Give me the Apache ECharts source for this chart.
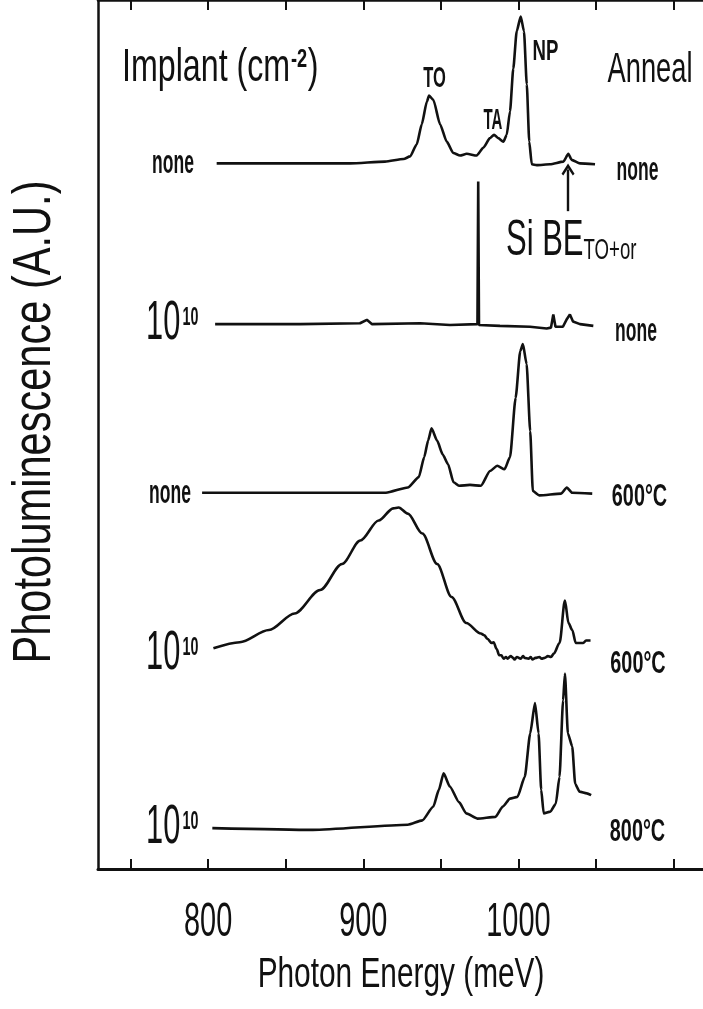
<!DOCTYPE html>
<html>
<head>
<meta charset="utf-8">
<script src="https://cdn.jsdelivr.net/npm/echarts@6/dist/echarts.min.js"></script>
<style>
  html, body { margin: 0; padding: 0; background: #ffffff; }
  #chart { width: 703px; height: 1009px; }
</style>
</head>
<body>
<div id="chart"></div>
<script>
// ---- Data: photon energy (meV) vs. photoluminescence (A.U., relative to each trace's baseline)
const energyMin = 729;
const energyMax = 1119;
const xTickValues = [750, 800, 850, 900, 950, 1000, 1050, 1100];
const xTickLabels = [800, 900, 1000];

// vertical offsets of the stacked traces (A.U.)
const traceOffsets = [8.12, 6.27, 4.33, 2.45, 0.46];

// implant: none, anneal: none
const traceNoneNone = [
  [805.5, 0], [830, 0], [859.3, 0], [891.5, 0], [914, 0.02], [926, 0.05], [930.2, 0.08],
  [934.5, 0.22], [937.7, 0.45], [941, 0.71], [942.4, 0.78], [945.2, 0.73], [949.5, 0.45],
  [953.8, 0.25], [958, 0.12], [962.4, 0.09], [966.7, 0.11], [973.1, 0.09], [977.4, 0.18],
  [981.7, 0.29], [984.3, 0.33], [987, 0.29], [990.3, 0.25], [992.5, 0.33], [994.6, 0.6],
  [996.7, 1.09], [998.9, 1.52], [1001.5, 1.69], [1003.6, 1.52], [1005.4, 0.91], [1007, 0.25],
  [1008.6, -0.01], [1011.8, -0.02], [1020.4, -0.01], [1029, 0.02], [1032.2, 0.11],
  [1034.3, 0.04], [1039.7, 0], [1049.4, -0.01]
];

// implant: 10^10, anneal: none
const traceImplNone = [
  [804.5, 0], [859.3, 0], [897.9, 0.01], [902.3, 0.05], [905.7, 0], [936.6, 0.01],
  [955.9, -0.01], [973.6, 0], [974.1, 1.64], [974.6, -0.01], [988.1, -0.02], [1007.5, -0.03],
  [1018.2, -0.05], [1021, -0.04], [1022.5, 0.11], [1023.9, -0.03], [1028.7, -0.03],
  [1031.3, 0.06], [1033.2, 0.11], [1035.2, 0.03], [1039.7, 0], [1048.3, -0.02]
];

// implant: none, anneal: 600 C
const traceNone600 = [
  [796.1, 0], [852.8, 0], [881.6, 0], [914.6, 0], [928.7, 0.06], [935.8, 0.18], [939.3, 0.41],
  [941.8, 0.6], [944, 0.74], [947.6, 0.6], [951.2, 0.44], [954.6, 0.33], [958.2, 0.12],
  [961.7, 0.08], [968.8, 0.09], [975.8, 0.08], [981.7, 0.25], [986.4, 0.31], [991.1, 0.27],
  [994.6, 0.41], [998.2, 1.09], [1001.2, 1.63], [1002.9, 1.71], [1005.3, 1.48], [1007.6, 0.71],
  [1009.3, 0.02], [1013.5, -0.03], [1027.6, -0.01], [1031.2, 0.06], [1034.6, 0],
  [1047.6, -0.01]
];

// implant: 10^10, anneal: 600 C
const traceImpl600 = [
  [803.4, 0.09], [820.4, 0.16], [839.2, 0.3], [855.7, 0.49], [872.2, 0.76], [886.3, 1.06],
  [898.1, 1.33], [909.9, 1.56], [919.3, 1.7], [922.8, 1.71], [928.7, 1.64], [938.1, 1.41],
  [947.6, 1.06], [956.9, 0.68], [966.4, 0.38], [975.8, 0.26], [978, 0.24], [980, 0.2],
  [982.8, 0.15], [984, 0.16], [986, 0.08], [987.6, 0.01], [989, 0.01], [990.5, -0.03],
  [992, -0.01], [993, -0.03], [995, 0], [996.5, -0.02], [997.5, -0.04], [999, -0.01],
  [1001.5, -0.03], [1003, 0], [1004, -0.02], [1006.5, -0.03], [1008, -0.01], [1009, -0.04],
  [1011, -0.02], [1013.5, -0.01], [1015, -0.03], [1017, -0.02], [1019, 0], [1021, -0.01],
  [1022.9, 0.03], [1026.5, 0.15], [1030, 0.64], [1032.3, 0.38], [1034.7, 0.3],
  [1037, 0.15], [1041.8, 0.15], [1043.6, 0.18], [1046.5, 0.18]
];

// implant: 10^10, anneal: 800 C
const traceImpl800 = [
  [802.7, 0.01], [867.5, -0.01], [928.7, 0.05], [938.1, 0.1], [945.2, 0.26], [948.7, 0.45],
  [951.8, 0.64], [955.8, 0.49], [961.7, 0.31], [966.4, 0.18], [973.5, 0.12], [985.2, 0.14],
  [990, 0.26], [994.6, 0.35], [999.4, 0.37], [1004.1, 0.6], [1007.6, 1.1], [1010.7, 1.45],
  [1013, 1.1], [1014.7, 0.45], [1016.3, 0.18], [1020.6, 0.2], [1024.1, 0.29], [1026.5, 0.6],
  [1028.8, 1.48], [1030, 1.79], [1031.9, 1.1], [1034.7, 0.95], [1036.6, 0.52],
  [1039.4, 0.43], [1044.1, 0.41], [1046.9, 0.39]
];

const traces = [traceNoneNone, traceImplNone, traceNone600, traceImpl600, traceImpl800];
const traceSmooth = [0.2, 0, 0.2, 0.3, 0.2];

// Si bound-exciton arrow (energy, A.U.)
const siArrow = [[1032, 7.57], [1032, 8.05]];

// ---- Styling
const INK = '#111111';
const FONT = '"Liberation Sans", Arial, sans-serif';

const series = traces.map((tr, i) => ({
  type: 'line',
  data: tr.map(([e, v]) => [e, v + traceOffsets[i]]),
  showSymbol: false,
  smooth: traceSmooth[i],
  smoothMonotone: 'x',
  lineStyle: { color: INK, width: 2.6 },
  silent: true,
  z: 3
}));

series[0].markLine = {
  silent: true,
  symbol: ['none', 'path://M6,0 L12,9 L10.4,10.6 L6,4.2 L1.6,10.6 L0,9 Z'],
  symbolSize: [13, 12],
  label: { show: false },
  lineStyle: { color: INK, width: 2.4, type: 'solid' },
  data: [[{ coord: siArrow[0] }, { coord: siArrow[1] }]]
};

const tickStyle = { inside: true, length: 10, lineStyle: { color: INK, width: 2 }, customValues: xTickValues };

const option = {
  backgroundColor: '#ffffff',
  animation: false,
  grid: { left: 98, right: 0, top: -2, bottom: 140, containLabel: false },
  xAxis: [
    {
      type: 'value', position: 'bottom', min: energyMin, max: energyMax,
      axisLine: { show: true, onZero: false, lineStyle: { color: INK, width: 3 } },
      axisTick: tickStyle,
      axisLabel: { show: false },
      splitLine: { show: false }
    },
    {
      type: 'value', position: 'top', min: energyMin, max: energyMax,
      axisLine: { show: true, onZero: false, lineStyle: { color: INK, width: 2.5 } },
      axisTick: tickStyle,
      axisLabel: { show: false },
      splitLine: { show: false }
    }
  ],
  yAxis: {
    type: 'value', min: 0, max: 10,
    axisLine: { show: true, onZero: false, lineStyle: { color: INK, width: 2.5 } },
    axisTick: { show: false },
    axisLabel: { show: false },
    splitLine: { show: false }
  },
  series: series
};

const chart = echarts.init(document.getElementById('chart'), null, { renderer: 'canvas' });
chart.setOption(option);

// condensed-looking text: a regular face squeezed horizontally
function txt(text, x, y, size, sx, style, extra) {
  return Object.assign({
    type: 'text', x: x, y: y, scaleX: sx, silent: true, z: 10,
    style: Object.assign({
      text: text, fontSize: size, fontFamily: FONT, fill: INK,
      align: 'center', verticalAlign: 'middle'
    }, style || {})
  }, extra || {});
}

const axisBottomPx = chart.convertToPixel({ yAxisIndex: 0 }, 0);
const g = [];

// x tick labels
xTickLabels.forEach(v => {
  const px = chart.convertToPixel({ xAxisIndex: 0 }, v);
  g.push(txt(String(v), px, axisBottomPx + 53, 49, 0.59));
});

// axis titles
g.push(txt('Photon Energy (meV)', 401, axisBottomPx + 106, 42, 0.71));
g.push(txt('Photoluminescence (A.U.)', 35, 422, 54, 0.77, null, { rotation: Math.PI / 2 }));

// column headings
g.push(txt('{m|Implant (cm}{s|-2}{m|)}', 122, 68, 46, 0.70, {
  align: 'left',
  rich: {
    m: { fontSize: 46, fontFamily: FONT, fill: INK },
    s: { fontSize: 26, fontFamily: FONT, fill: INK, fontWeight: 'bold', verticalAlign: 'top', padding: [2, 1, 0, 1] }
  }
}));
g.push(txt('Anneal', 650, 70, 42, 0.65));

// peak labels
g.push(txt('TO', 434.5, 79, 30, 0.55, { fontWeight: 'bold' }));
g.push(txt('TA', 493, 121, 30, 0.5, { fontWeight: 'bold' }));
g.push(txt('NP', 545.5, 52, 30, 0.62, { fontWeight: 'bold' }));

// Si BE label with subscript
g.push(txt('{m|Si BE}{s|TO+or}', 506, 241, 50, 0.62, {
  align: 'left',
  rich: {
    m: { fontSize: 50, fontFamily: FONT, fill: INK },
    s: { fontSize: 30, fontFamily: FONT, fill: INK, verticalAlign: 'bottom' }
  }
}));

// implant labels (left)
const implRich = {
  m: { fontSize: 56, fontFamily: FONT, fill: INK },
  s: { fontSize: 26, fontFamily: FONT, fill: INK, fontWeight: 'bold', verticalAlign: 'top', padding: [9, 0, 0, 4] }
};
g.push(txt('none', 173, 163.5, 33, 0.53, { fontWeight: 'bold' }));
g.push(txt('{m|10}{s|10}', 146, 324, 56, 0.55, { align: 'left', rich: implRich }));
g.push(txt('none', 170, 494, 33, 0.53, { fontWeight: 'bold' }));
g.push(txt('{m|10}{s|10}', 146, 654, 56, 0.55, { align: 'left', rich: implRich }));
g.push(txt('{m|10}{s|10}', 146, 828, 56, 0.55, { align: 'left', rich: implRich }));

// anneal labels (right)
g.push(txt('none', 637.5, 171, 33, 0.53, { fontWeight: 'bold' }));
g.push(txt('none', 636, 332, 33, 0.53, { fontWeight: 'bold' }));
g.push(txt('600°C', 639.5, 497, 31, 0.64, { fontWeight: 'bold' }));
g.push(txt('600°C', 638, 664, 31, 0.64, { fontWeight: 'bold' }));
g.push(txt('800°C', 637.5, 832.5, 31, 0.64, { fontWeight: 'bold' }));

chart.setOption({ graphic: g });
</script>
</body>
</html>
